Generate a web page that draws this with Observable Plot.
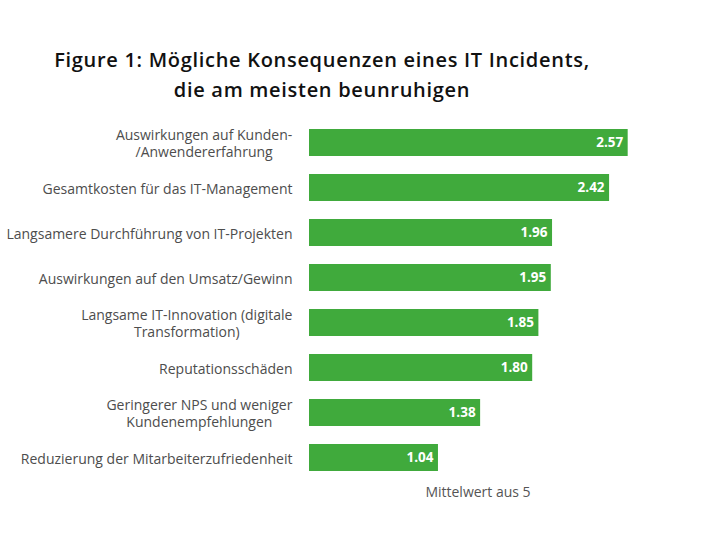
<!DOCTYPE html>
<html>
<head>
<meta charset="utf-8">
<script src="https://cdn.jsdelivr.net/npm/d3@7"></script>
<script src="https://cdn.jsdelivr.net/npm/@observablehq/plot@0.6"></script>
<style>
  html, body { margin: 0; padding: 0; background: #fff; }
  #page { position: relative; width: 711px; height: 537px; overflow: hidden; }
  #title {
    position: absolute; left: 0; top: 45px; width: 644px;
    text-align: center; font-family: "Open Sans", sans-serif; font-weight: 600;
    font-size: 20px; letter-spacing: 0.7px; line-height: 30px; color: #111;
  }
  #chart { position: absolute; left: 0; top: 110px; }
  #caption {
    position: absolute; left: 378px; top: 482px; width: 200px; text-align: center;
    font-family: "Open Sans", sans-serif; font-size: 14px; color: #555;
  }
</style>
</head>
<body>
<div id="page">
  <div id="title">Figure 1: Mögliche Konsequenzen eines IT Incidents,<br>die am meisten beunruhigen</div>
  <div id="chart"></div>
  <div id="caption">Mittelwert aus 5</div>
</div>
<script>
// Concerns, top to bottom, and their mean rating (scale of 5)
const categories = [
  "Auswirkungen auf Kunden-\n/Anwendererfahrung",
  "Gesamtkosten für das IT-Management",
  "Langsamere Durchführung von IT-Projekten",
  "Auswirkungen auf den Umsatz/Gewinn",
  "Langsame IT-Innovation (digitale\nTransformation)",
  "Reputationsschäden",
  "Geringerer NPS und weniger\nKundenempfehlungen",
  "Reduzierung der Mitarbeiterzufriedenheit"
];
const values = [2.57, 2.42, 1.96, 1.95, 1.85, 1.80, 1.38, 1.04];

const rows = categories.map((c, i) => ({category: c, value: values[i]}));
const green = "#40aa3c";

const chart = Plot.plot({
  width: 711,
  height: 379,
  marginTop: 1,
  marginBottom: 0,
  marginLeft: 309,
  marginRight: 30,
  style: {fontFamily: "Open Sans, sans-serif", background: "white"},
  x: {domain: [0, 3], axis: null},
  y: {domain: categories, padding: 0.4, label: null},
  marks: [
    Plot.axisY({tickSize: 0, tickPadding: 17, fontSize: 14, lineHeight: 1.25, fill: "#4d4d4d"}),
    Plot.barX(rows, {y: "category", x: "value", fill: green}),
    Plot.text(rows, {
      y: "category", x: "value", text: d => d.value.toFixed(2),
      textAnchor: "end", dx: -5, fill: "white", fontWeight: 700, fontSize: 13.5
    })
  ]
});

document.getElementById("chart").append(chart);

// Multi-line category labels are centred within their own block, right-aligned as a whole
chart.querySelectorAll('[aria-label="y-axis tick label"] text').forEach(t => {
  const spans = t.querySelectorAll("tspan");
  if (spans.length > 1) {
    const w = t.getBBox().width;
    t.setAttribute("text-anchor", "middle");
    spans.forEach(s => s.setAttribute("x", -w / 2));
  }
});
</script>
</body>
</html>
